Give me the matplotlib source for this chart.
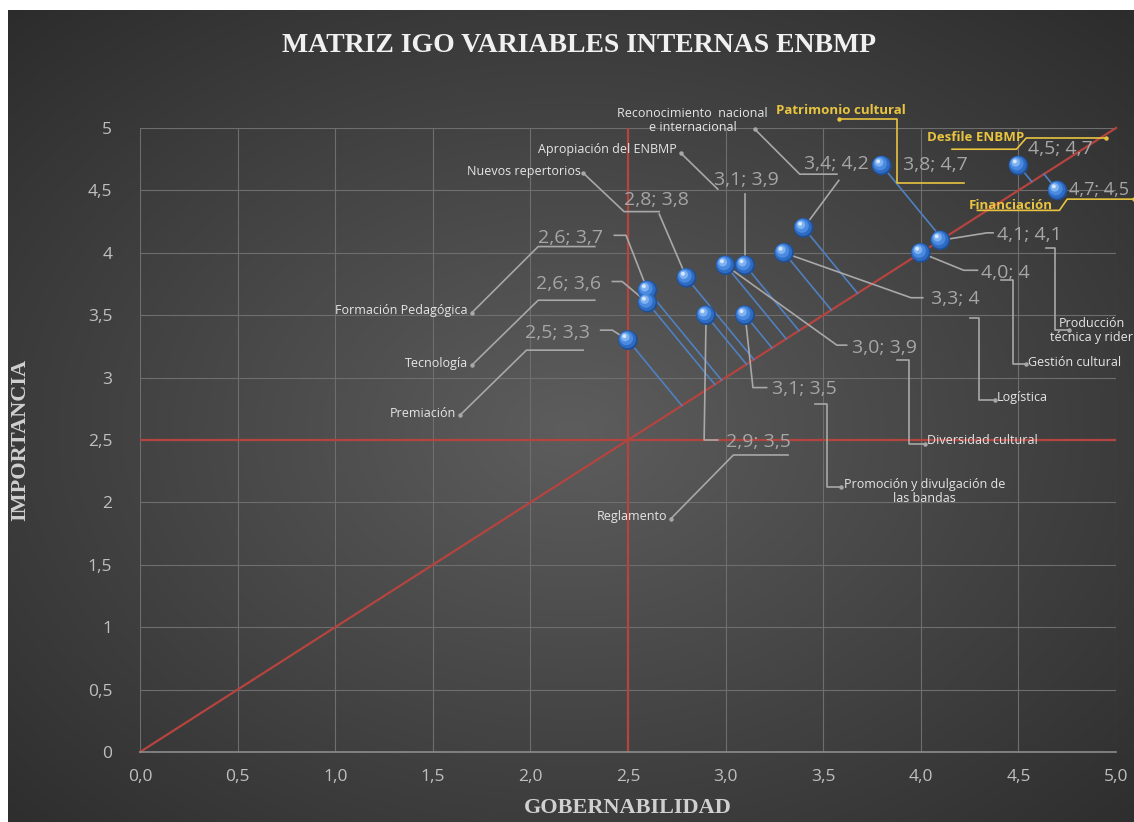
import numpy as np
import matplotlib
matplotlib.use("Agg")
from matplotlib import pyplot as plt
from matplotlib import transforms

# datos: gobernabilidad (x), importancia (y)
nombres = ["Formación Pedagógica", "Tecnología", "Premiación", "Nuevos repertorios",
           "Apropiación del ENBMP", "Reconocimiento  nacional\ne internacional",
           "Patrimonio cultural", "Desfile ENBMP", "Financiación",
           "Producción\ntécnica y rider", "Gestión cultural", "Logística",
           "Diversidad cultural", "Promoción y divulgación de\nlas bandas", "Reglamento"]
gob = [2.6, 2.6, 2.5, 2.8, 3.1, 3.4, 3.8, 4.5, 4.7, 4.1, 4.0, 3.3, 3.0, 3.1, 2.9]
imp = [3.7, 3.6, 3.3, 3.8, 3.9, 4.2, 4.7, 4.7, 4.5, 4.1, 4.0, 4.0, 3.9, 3.5, 3.5]
etiquetas = ["2,6; 3,7", "2,6; 3,6", "2,5; 3,3", "2,8; 3,8", "3,1; 3,9", "3,4; 4,2",
             "3,8; 4,7", "4,5; 4,7", "4,7; 4,5", "4,1; 4,1", "4,0; 4", "3,3; 4",
             "3,0; 3,9", "3,1; 3,5", "2,9; 3,5"]
destacados = ["Patrimonio cultural", "Desfile ENBMP", "Financiación"]

ticks = [0, 0.5, 1, 1.5, 2, 2.5, 3, 3.5, 4, 4.5, 5]
xtick_lbl = ["0,0", "0,5", "1,0", "1,5", "2,0", "2,5", "3,0", "3,5", "4,0", "4,5", "5,0"]
ytick_lbl = ["0", "0,5", "1", "1,5", "2", "2,5", "3", "3,5", "4", "4,5", "5"]

# posiciones de las etiquetas (layout): valor, guia desde el punto, nombre, guia al nombre
layout = [
    dict(val=(2.04, 4.12), lp=[(2.49, 4.14), (2.43, 4.14)],
         nom=(1.68, 3.54, "right"), ln=[(2.33, 4.05), (2.04, 4.05), (1.70, 3.52)]),
    dict(val=(2.03, 3.75), lp=[(2.47, 3.77), (2.42, 3.77)],
         nom=(1.68, 3.11, "right"), ln=[(2.33, 3.62), (2.04, 3.62), (1.70, 3.10)]),
    dict(val=(1.97, 3.36), lp=[(2.42, 3.38), (2.36, 3.38)],
         nom=(1.62, 2.71, "right"), ln=[(2.27, 3.22), (1.98, 3.22), (1.64, 2.70)]),
    dict(val=(2.48, 4.42), lp=[(2.66, 4.31)],
         nom=(2.26, 4.65, "right"), ln=[(2.66, 4.33), (2.48, 4.33), (2.27, 4.64)]),
    dict(val=(2.94, 4.58), lp=[(3.10, 4.47)],
         nom=(2.75, 4.83, "right"), ln=[(2.96, 4.51), (2.77, 4.80)]),
    dict(val=(3.40, 4.71), lp=[(3.58, 4.58)],
         nom=(2.83, 5.06, "center"), ln=[(3.57, 4.63), (3.38, 4.63), (3.15, 4.99)]),
    dict(val=(3.91, 4.70), lp=[],
         nom=(3.59, 5.14, "center"), ln=[(4.22, 4.56), (3.88, 4.56), (3.88, 5.07), (3.58, 5.07)]),
    dict(val=(4.55, 4.83), lp=[],
         nom=(4.28, 4.92, "center"), ln=[(4.16, 4.83), (4.49, 4.83), (4.54, 4.92), (4.95, 4.92)]),
    dict(val=(4.76, 4.50), lp=[],
         nom=(4.46, 4.38, "center"), ln=[(4.29, 4.34), (4.71, 4.34), (4.75, 4.43), (5.09, 4.43)]),
    dict(val=(4.39, 4.14), lp=[(4.34, 4.16), (4.37, 4.16)],
         nom=(4.875, 3.38, "center"), ln=[(4.64, 4.04), (4.69, 4.04), (4.69, 3.38), (4.76, 3.38)]),
    dict(val=(4.31, 3.84), lp=[(4.22, 3.86), (4.29, 3.86)],
         nom=(4.55, 3.12, "left"), ln=[(4.41, 3.78), (4.47, 3.78), (4.47, 3.11), (4.54, 3.11)]),
    dict(val=(4.05, 3.63), lp=[(3.95, 3.64), (4.01, 3.64)],
         nom=(4.39, 2.84, "left"), ln=[(4.25, 3.48), (4.30, 3.48), (4.30, 2.82), (4.38, 2.82)]),
    dict(val=(3.65, 3.24), lp=[(3.57, 3.26), (3.62, 3.26)],
         nom=(4.03, 2.50, "left"), ln=[(3.88, 3.14), (3.94, 3.14), (3.94, 2.47), (4.02, 2.47)]),
    dict(val=(3.24, 2.91), lp=[(3.14, 2.92), (3.21, 2.92)],
         nom=(4.02, 2.09, "center"), ln=[(3.46, 2.79), (3.52, 2.79), (3.52, 2.12), (3.59, 2.12)]),
    dict(val=(3.00, 2.48), lp=[(2.89, 2.50), (2.96, 2.50)],
         nom=(2.70, 1.89, "right"), ln=[(3.32, 2.38), (3.04, 2.38), (2.72, 1.87)]),
]

plt.rcParams['font.family'] = ['Open Sans', 'DejaVu Sans']

fig = plt.figure(figsize=(11.34, 8.22), dpi=100, facecolor="white")

# fondo gris con degradado radial
bg = fig.add_axes([8 / 1134, 0, 1 - 8 / 1134, 1 - 10 / 822])
bg.axis("off")
yy, xx = np.mgrid[0:1:300j, 0:1:400j]
r = np.sqrt(((xx - 0.5) / 0.75) ** 2 + ((yy - 0.52) / 0.75) ** 2)
val = np.clip(0.365 - 0.2 * r, 0.16, 0.37)
bg.imshow(np.dstack([val, val, val]), aspect="auto", extent=[0, 1, 0, 1])

ax = fig.add_axes([140 / 1134, 1 - 752 / 822, 976 / 1134, 624 / 822])
ax.set_facecolor("none")
ax.set_xlim(0, 5)
ax.set_ylim(0, 5)
ax.set_xticks(ticks)
ax.set_yticks(ticks)
ax.set_xticklabels(xtick_lbl)
ax.set_yticklabels(ytick_lbl)
ax.tick_params(length=0, colors="#bfbfbf", labelsize=12.5)
ax.tick_params(axis="x", pad=12)
ax.tick_params(axis="y", pad=20)
ax.grid(True, color="#6e6e6e", lw=0.8)
for s in ["top", "right", "left"]:
    ax.spines[s].set_visible(False)
ax.spines["bottom"].set_color("#8c8c8c")
ax.spines["bottom"].set_linewidth(1.2)
ax.set_axisbelow(True)

# lineas rojas: cuadrantes y diagonal
rojo = "#b5443f"
ax.axvline(2.5, color=rojo, lw=1.6, zorder=2)
ax.axhline(2.5, color=rojo, lw=1.6, zorder=2)
ax.plot([0, 5], [0, 5], color=rojo, lw=1.6, zorder=2, clip_on=False)

# lineas azules hacia la diagonal
for x, y in zip(gob, imp):
    t = (y - x) / 2.9
    ax.plot([x, x + t], [y, y - 1.9 * t], color="#4f80c0", lw=1.2, zorder=3)

gris = "#a8a8a8"
amarillo = "#e8c440"
for nombre, x, y, et, lay in zip(nombres, gob, imp, etiquetas, layout):
    col = amarillo if nombre in destacados else gris
    # guia desde el punto hasta el valor
    if lay["lp"]:
        px = [x] + [p[0] for p in lay["lp"]]
        py = [y] + [p[1] for p in lay["lp"]]
        ax.plot(px, py, color=gris, lw=1.2, zorder=3, clip_on=False)
    fs = 13 if nombre == "Financiación" else 14
    ax.text(lay["val"][0], lay["val"][1], et, color="#a6a6a6", fontsize=fs,
            ha="left", va="center", zorder=6, clip_on=False)
    lx = [p[0] for p in lay["ln"]]
    ly = [p[1] for p in lay["ln"]]
    ax.plot(lx, ly, color=col, lw=1.2, zorder=3, clip_on=False)
    ax.plot(lx[-1], ly[-1], "o", color=col, ms=2.2, zorder=3, clip_on=False)
    nx, ny, ha = lay["nom"]
    if nombre in destacados:
        ax.text(nx, ny, nombre, color=amarillo, fontsize=9.5, fontweight="bold",
                ha=ha, va="center", zorder=6, clip_on=False)
    else:
        ax.text(nx, ny, nombre, color="#e6e6e6", fontsize=9, ha=ha, va="center",
                multialignment="center", zorder=6, clip_on=False, linespacing=1.1)

# esferas azules
capas = [(200, "#1f4f96", 0, 0), (160, "#2e6cc4", -0.5, 0.5), (95, "#4a8ae0", -1.2, 1.3),
         (38, "#7fb2f0", -2.0, 2.2), (8, "#d8e8ff", -2.6, 2.9)]
for s, c, dx, dy in capas:
    off = transforms.offset_copy(ax.transData, fig=fig, x=dx, y=dy, units="points")
    ax.scatter(gob, imp, s=s, color=c, edgecolors="none", zorder=5, transform=off,
               clip_on=False)

fig.text(579 / 1134, 1 - 45 / 822, "MATRIZ IGO VARIABLES INTERNAS ENBMP",
         family="Liberation Serif", fontweight="bold", fontsize=20, color="#f0f0f0",
         ha="center", va="center")
fig.text(20 / 1134, 1 - 440 / 822, "IMPORTANCIA", family="Liberation Serif",
         fontweight="bold", fontsize=16, color="#d0d0d0", rotation=90,
         ha="center", va="center")
fig.text(628 / 1134, 1 - 808 / 822, "GOBERNABILIDAD", family="Liberation Serif",
         fontweight="bold", fontsize=16, color="#d0d0d0", ha="center", va="center")

fig.savefig("out.png", dpi=100, facecolor="white")
